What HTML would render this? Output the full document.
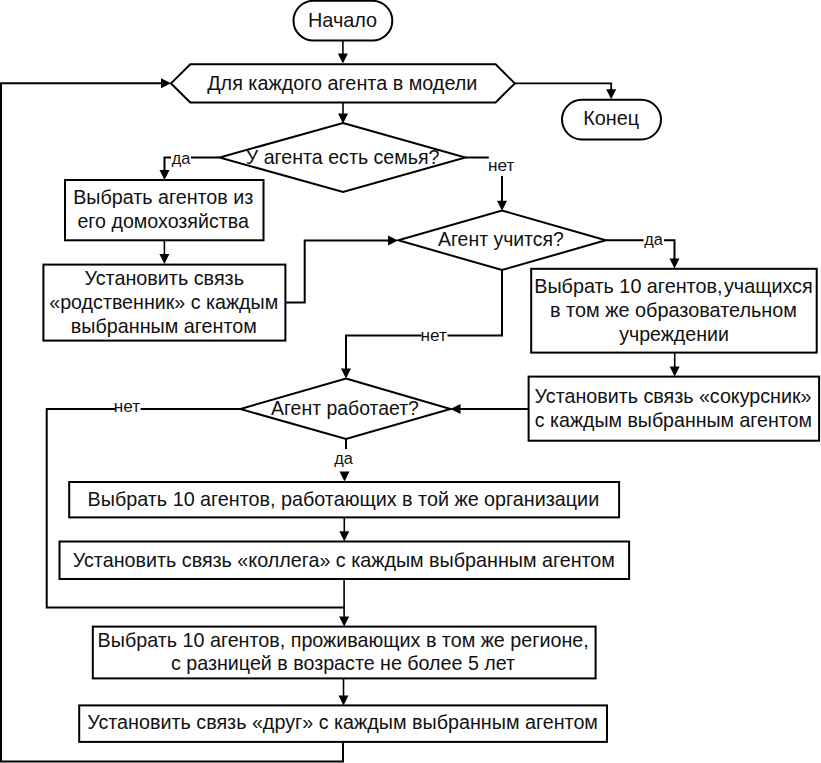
<!DOCTYPE html>
<html><head><meta charset="utf-8"><style>
html,body{margin:0;padding:0;background:#fff;}
svg{display:block;}
text{font-family:"Liberation Sans", sans-serif;fill:#111;}
</style></head><body>
<svg width="821" height="763" viewBox="0 0 821 763">
<rect x="293.5" y="0.8" width="98.8" height="39.8" rx="19.9" fill="#fff" stroke="#000" stroke-width="2"/>
<path d="M342.9,40.6 L342.9,56" fill="none" stroke="#000" stroke-width="1.6"/>
<path d="M337.9,53.5 L347.9,53.5 L342.9,63.5 Z"/>
<path d="M171,83.4 L190.3,64.3 L495.6,64.3 L514.8,83.4 L495.6,102.5 L190.3,102.5 Z" fill="#fff" stroke="#000" stroke-width="2"/>
<path d="M514.8,83.3 L611.2,83.3 L611.2,92" fill="none" stroke="#000" stroke-width="1.8"/>
<path d="M606.2,89.3 L616.2,89.3 L611.2,99.3 Z"/>
<rect x="562" y="99.8" width="99" height="39.6" rx="19.8" fill="#fff" stroke="#000" stroke-width="2"/>
<path d="M343,102.5 L343,116" fill="none" stroke="#000" stroke-width="1.6"/>
<path d="M338.0,113.5 L348.0,113.5 L343,123.5 Z"/>
<path d="M343,123 L465.4,157.5 L343,192 L219.6,157.5 Z" fill="#fff" stroke="#000" stroke-width="2"/>
<path d="M219.6,157.5 L191,157.5" fill="none" stroke="#000" stroke-width="2"/>
<path d="M171,157.5 L164.5,157.5 L164.5,172" fill="none" stroke="#000" stroke-width="2"/>
<path d="M159.5,170 L169.5,170 L164.5,180 Z"/>
<path d="M465.4,157.5 L488.8,157.5" fill="none" stroke="#000" stroke-width="2"/>
<path d="M502,176 L502,203" fill="none" stroke="#000" stroke-width="2"/>
<path d="M497.0,200.7 L507.0,200.7 L502,210.7 Z"/>
<rect x="65" y="180" width="198.5" height="60.3" rx="0" fill="#fff" stroke="#000" stroke-width="2"/>
<path d="M164.4,240.3 L164.4,256" fill="none" stroke="#000" stroke-width="1.6"/>
<path d="M159.4,254 L169.4,254 L164.4,264 Z"/>
<rect x="43.4" y="264.6" width="242.0" height="76.0" rx="0" fill="#fff" stroke="#000" stroke-width="2"/>
<path d="M285.4,302.6 L304.7,302.6 L304.7,240.5 L390,240.5" fill="none" stroke="#000" stroke-width="2"/>
<path d="M388,235.5 L388,245.5 L398,240.5 Z"/>
<path d="M502,210.5 L605.8,240.3 L502,270 L398.3,240.3 Z" fill="#fff" stroke="#000" stroke-width="2"/>
<path d="M605.8,240.3 L643.6,240.3" fill="none" stroke="#000" stroke-width="2"/>
<path d="M664,240.3 L674.5,240.3 L674.5,260" fill="none" stroke="#000" stroke-width="2"/>
<path d="M669.5,258.6 L679.5,258.6 L674.5,268.6 Z"/>
<rect x="531.2" y="268.8" width="285.5" height="83.8" rx="0" fill="#fff" stroke="#000" stroke-width="2"/>
<path d="M674.7,352.6 L674.7,368" fill="none" stroke="#000" stroke-width="1.6"/>
<path d="M669.7,366.5 L679.7,366.5 L674.7,376.5 Z"/>
<rect x="528.6" y="376.6" width="290.5" height="64.1" rx="0" fill="#fff" stroke="#000" stroke-width="2"/>
<path d="M528.6,408.9 L458,408.9" fill="none" stroke="#000" stroke-width="2"/>
<path d="M460.5,403.9 L460.5,413.9 L450.5,408.9 Z"/>
<path d="M502,270 L502,335.5 L447.5,335.5" fill="none" stroke="#000" stroke-width="2"/>
<path d="M421.5,335.5 L346,335.5 L346,371" fill="none" stroke="#000" stroke-width="2"/>
<path d="M341.0,368.5 L351.0,368.5 L346,378.5 Z"/>
<path d="M346,378.5 L450.5,409 L346,439 L240.4,409 Z" fill="#fff" stroke="#000" stroke-width="2"/>
<path d="M240.4,408.9 L140.5,408.9" fill="none" stroke="#000" stroke-width="2"/>
<path d="M115,408.9 L46.7,408.9 L46.7,607.6 L344.1,607.6" fill="none" stroke="#000" stroke-width="2"/>
<path d="M339.1,616.6 L349.1,616.6 L344.1,626.6 Z"/>
<path d="M346,439 L346,449" fill="none" stroke="#000" stroke-width="2"/>
<path d="M339.5,471.4 L349.5,471.4 L344.5,481.4 Z"/>
<rect x="69.2" y="482" width="549.9" height="35.4" rx="0" fill="#fff" stroke="#000" stroke-width="2"/>
<path d="M344.3,517.4 L344.3,534" fill="none" stroke="#000" stroke-width="1.6"/>
<path d="M339.3,531.2 L349.3,531.2 L344.3,541.2 Z"/>
<rect x="59.5" y="541.5" width="569.6" height="37.5" rx="0" fill="#fff" stroke="#000" stroke-width="2"/>
<path d="M344.1,579 L344.1,619" fill="none" stroke="#000" stroke-width="1.6"/>
<rect x="92.8" y="626.6" width="502.8" height="51.8" rx="0" fill="#fff" stroke="#000" stroke-width="2"/>
<path d="M343.5,678.4 L343.5,698" fill="none" stroke="#000" stroke-width="1.6"/>
<path d="M338.5,695.4 L348.5,695.4 L343.5,705.4 Z"/>
<rect x="79.2" y="705.4" width="527.8" height="36.5" rx="0" fill="#fff" stroke="#000" stroke-width="2"/>
<path d="M343,741.9 L343,761.5 L1,761.5 L1,83.3 L163,83.3" fill="none" stroke="#000" stroke-width="2"/>
<path d="M161,78.3 L161,88.3 L171,83.3 Z"/>
<text x="308.01" y="26.6" font-size="19.852">Начало</text>
<text x="207.20" y="89.6" font-size="19.816">Для каждого агента в модели</text>
<text x="583.20" y="124.9" font-size="19.823">Конец</text>
<text x="245.82" y="163.7" font-size="19.610">У агента есть семья?</text>
<text x="73.22" y="204.4" font-size="19.702">Выбрать агентов из</text>
<text x="77.42" y="228.2" font-size="19.655">его домохозяйства</text>
<text x="84.41" y="285.3" font-size="19.800">Установить связь</text>
<text x="49.22" y="308.5" font-size="19.670">«родственник» с каждым</text>
<text x="70.81" y="332.8" font-size="19.764">выбранным агентом</text>
<text x="438.01" y="246.1" font-size="19.439">Агент учится?</text>
<text x="534.21" y="293.1" font-size="19.793">Выбрать 10 агентов,<tspan dx='-4'> учащихся</tspan></text>
<text x="550.01" y="316.9" font-size="19.870">в том же образовательном</text>
<text x="619.20" y="340.6" font-size="19.605">учреждении</text>
<text x="534.62" y="402.8" font-size="19.692">Установить связь «сокурсник»</text>
<text x="534.82" y="426.7" font-size="19.593">с каждым выбранным агентом</text>
<text x="271.00" y="414.9" font-size="19.435">Агент работает?</text>
<text x="87.62" y="505.8" font-size="19.763">Выбрать 10 агентов, работающих в той же организации</text>
<text x="72.81" y="566.6" font-size="19.730">Установить связь «коллега» с каждым выбранным агентом</text>
<text x="97.62" y="647.0" font-size="19.721">Выбрать 10 агентов, проживающих в том же регионе,</text>
<text x="171.01" y="670.3" font-size="19.685">с разницей в возрасте не более 5 лет</text>
<text x="87.21" y="729.1" font-size="19.748">Установить связь «друг» с каждым выбранным агентом</text>
<text x="171.81" y="163.5" font-size="16.300">да</text>
<text x="487.93" y="170.9" font-size="17.200">нет</text>
<text x="644.19" y="244.9" font-size="16.300">да</text>
<text x="420.51" y="340.5" font-size="17.200">нет</text>
<text x="113.79" y="412" font-size="17.200">нет</text>
<text x="334.16" y="463.7" font-size="16.300">да</text>
</svg>
</body></html>
